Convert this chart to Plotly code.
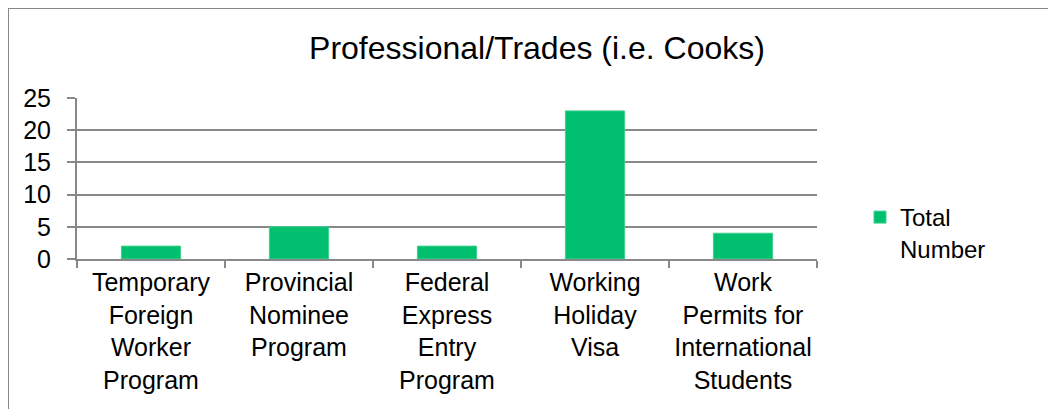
import plotly.graph_objects as go

categories = [
    "Temporary<br>Foreign<br>Worker<br>Program",
    "Provincial<br>Nominee<br>Program",
    "Federal<br>Express<br>Entry<br>Program",
    "Working<br>Holiday<br>Visa",
    "Work<br>Permits for<br>International<br>Students",
]
values = [2, 5, 2, 23, 4]
series_name = "Total<br>Number"
title_text = "Professional/Trades (i.e. Cooks)"

# page has an 8px body margin; work in figure pixels (page - 8)
OFF = 8
W, H = 1056, 409
L, R, T, B = 77 - OFF, 817 - OFF, 98 - OFF, 259 - OFF
pw, ph = R - L, B - T

def px_x(px):
    return (px - OFF - L) / pw

def px_y(py):
    return (B - (py - OFF)) / ph

font = "Liberation Sans, Arial, sans-serif"
grid = "#888888"

fig = go.Figure()
fig.add_trace(go.Bar(
    x=categories, y=values, name=series_name,
    marker=dict(color="#00BF6F", line=dict(color="#3FD08F", width=1)),
    showlegend=True,
))

fig.update_layout(
    width=W, height=H,
    margin=dict(l=L, r=W - R, t=T, b=H - B, pad=0),
    paper_bgcolor="white", plot_bgcolor="white",
    font=dict(family=font, size=24, color="black"),
    bargap=0.6,
    title=dict(text=title_text, x=px_x(537), xref="paper", xanchor="center",
               y=1 - (48 - OFF) / H, yanchor="middle", font=dict(size=32)),
    legend=dict(x=px_x(860), y=px_y(233), xanchor="left", yanchor="middle",
                font=dict(size=24), itemwidth=30, valign="top",
                bgcolor="rgba(0,0,0,0)"),
    xaxis=dict(showline=True, linecolor=grid, linewidth=2,
               ticks="outside", tickson="boundaries", ticklen=7,
               tickcolor=grid, tickwidth=2, showgrid=False,
               tickfont=dict(size=25)),
    yaxis=dict(range=[0, 25], dtick=5, showline=True, linecolor=grid, linewidth=2,
               ticks="outside", ticklen=8, tickcolor=grid, tickwidth=2,
               showgrid=True, gridcolor=grid, gridwidth=2, zeroline=False,
               tickfont=dict(size=25), ticklabelstandoff=11),
    shapes=[
        dict(type="line", xref="paper", yref="paper",
             x0=px_x(8), x1=px_x(8), y0=px_y(420), y1=px_y(8),
             line=dict(color="#888888", width=2)),
        dict(type="line", xref="paper", yref="paper",
             x0=px_x(8), x1=px_x(1070), y0=px_y(8), y1=px_y(8),
             line=dict(color="#888888", width=2)),
    ],
)

fig.write_html("out.html")
